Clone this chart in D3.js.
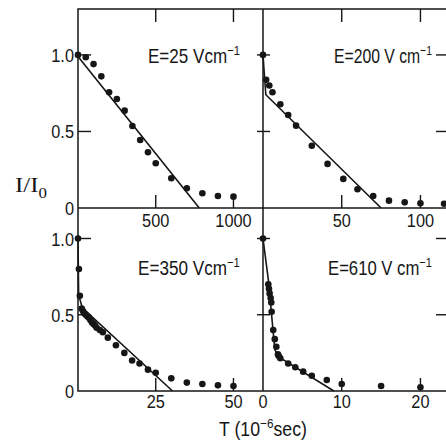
<!DOCTYPE html>
<html><head><meta charset="utf-8">
<script src="https://cdn.jsdelivr.net/npm/d3@7"></script>
<style>html,body{margin:0;padding:0;background:#fff}svg{display:block}</style>
</head><body><svg id="c" width="446" height="440"></svg>
<script>
// ---- data ----
const fieldLabels = ["E=25 Vcm", "E=200 V cm", "E=350 Vcm", "E=610 V cm"];

const t25 = [0,50,100,150,200,250,300,350,400,450,500,600,700,800,900,1000];
const i25 = [1.0,0.985,0.94,0.86,0.756,0.712,0.636,0.536,0.444,0.364,0.292,0.194,0.129,0.096,0.078,0.074];
const fit25T = [0,780];
const fit25I = [0.99,0];

const t200 = [0,2,4,6,11,16,21,31,41,51,60,70,80,90,100,115];
const i200 = [1.0,0.837,0.80,0.756,0.678,0.608,0.538,0.407,0.288,0.19,0.122,0.078,0.048,0.037,0.031,0.028];
const fit200T = [0,0.8,1.8,75];
const fit200I = [1.0,0.88,0.74,0];

const t350 = [0,0.3,0.6,1.2,1.6,2,2.5,3,3.5,4,4.5,5,5.5,6,7,8,9.6,12.2,14.9,17.4,19.8,22.5,25,30,35,40,45,50];
const i350 = [1.0,0.80,0.625,0.54,0.525,0.51,0.50,0.49,0.48,0.465,0.45,0.44,0.43,0.415,0.40,0.385,0.35,0.30,0.25,0.20,0.18,0.14,0.12,0.083,0.055,0.046,0.037,0.033];
const fit350T = [0,0.2,1.4,30.4];
const fit350I = [1.0,0.63,0.545,0];

const t610 = [0,0.67,0.76,0.84,0.97,1.05,1.1,1.3,1.5,1.7,1.9,2.0,2.2,3.2,4.1,5.1,6.2,8.1,10,15,20];
const i610 = [1.0,0.70,0.67,0.64,0.61,0.58,0.52,0.40,0.34,0.29,0.24,0.23,0.215,0.18,0.156,0.127,0.10,0.072,0.046,0.033,0.024];
const fit610T = [0,0.7,1.5,2.1,9.0];
const fit610I = [1.0,0.72,0.27,0.22,0];

const xTicks25 = [500,1000];
const xTicks200 = [50,100];
const xTicks350 = [25,50];
const xTicks610 = [0,10,20];
const yTicks = [0,0.5,1.0];
const yTickLabels = ["0","0.5","1.0"];

// ---- layout ----
const svg = d3.select('#c');
const L=78, M=263, R=448, TOP=9, MY=208, B=391;
const INK = "#161616";
const FONT = "'Liberation Sans', Arial, sans-serif";

const panels = [
  {t:t25, i:i25, ft:fit25T, fi:fit25I, xd:[0,1190], xr:[L,M], yd:[0,1.3], yr:[MY,TOP], xt:xTicks25, row:0, col:0, lab:fieldLabels[0], lx:148, ly:63, lw:92},
  {t:t200,i:i200,ft:fit200T,fi:fit200I,xd:[0,117.5],xr:[M,R], yd:[0,1.3], yr:[MY,TOP], xt:xTicks200, row:0, col:1, lab:fieldLabels[1], lx:334, ly:63, lw:98},
  {t:t350,i:i350,ft:fit350T,fi:fit350I,xd:[0,59.5], xr:[L,M], yd:[0,1.2], yr:[B,MY], xt:xTicks350, row:1, col:0, lab:fieldLabels[2], lx:138, ly:275, lw:102},
  {t:t610,i:i610,ft:fit610T,fi:fit610I,xd:[0,23.5], xr:[M,R], yd:[0,1.2], yr:[B,MY], xt:xTicks610, row:1, col:1, lab:fieldLabels[3], lx:328, ly:275, lw:104}
];

const gFrame = svg.append('g').attr('stroke', INK).attr('stroke-width', 1.5).attr('fill','none');
// outer frame and dividers
gFrame.append('rect').attr('x', L).attr('y', TOP).attr('width', R-L).attr('height', B-TOP);
gFrame.append('line').attr('x1', M).attr('x2', M).attr('y1', TOP).attr('y2', B);
gFrame.append('line').attr('x1', L).attr('x2', R).attr('y1', MY).attr('y2', MY);

function fitText(sel, target) {
  const w = sel.node().getComputedTextLength();
  return target / w;
}

function addText(x, y, anchor, size, sx, parts, family) {
  const t = svg.append('text')
    .attr('font-family', family || FONT)
    .attr('font-size', size)
    .attr('fill', INK)
    .attr('text-anchor', anchor);
  parts.forEach(p => {
    const ts = t.append('tspan').text(p.s);
    if (p.k === 'sup') ts.attr('font-size', size*0.66).attr('dy', -size*0.42);
    if (p.k === 'sub') ts.attr('font-size', size*0.68).attr('dy', size*0.28);
    if (p.k === 'back') ts.attr('dy', size*0.42);
    if (p.k === 'backsub') ts.attr('dy', -size*0.28);
  });
  let s = sx;
  if (typeof sx === 'object') s = fitText(t, sx.w);
  t.attr('transform', `translate(${x},${y}) scale(${s},1)`);
  return t;
}

panels.forEach(p => {
  const x = d3.scaleLinear().domain(p.xd).range(p.xr);
  const y = d3.scaleLinear().domain(p.yd).range(p.yr);
  const g = svg.append('g');

  // x ticks (bottom, pointing up) and top ticks for the top row
  const xb = p.yr[0], xtop = p.yr[1];
  p.xt.filter(v => v !== 0).forEach(v => {
    g.append('line').attr('x1', x(v)).attr('x2', x(v)).attr('y1', xb).attr('y2', xb-13)
      .attr('stroke', INK).attr('stroke-width', 1.4);
    if (p.row === 0)
      g.append('line').attr('x1', x(v)).attr('x2', x(v)).attr('y1', xtop).attr('y2', xtop+13)
        .attr('stroke', INK).attr('stroke-width', 1.4);
  });
  // y ticks
  yTicks.filter(v => v !== 0).forEach(v => {
    if (p.col === 0) {
      g.append('line').attr('x1', L).attr('x2', L+13).attr('y1', y(v)).attr('y2', y(v))
        .attr('stroke', INK).attr('stroke-width', 1.4);
    } else {
      g.append('line').attr('x1', M-6).attr('x2', M+7).attr('y1', y(v)).attr('y2', y(v))
        .attr('stroke', INK).attr('stroke-width', 1.4);
      g.append('line').attr('x1', R-12).attr('x2', R).attr('y1', y(v)).attr('y2', y(v))
        .attr('stroke', INK).attr('stroke-width', 1.4);
    }
  });

  // fitted line
  const line = d3.line().x(d => x(d[0])).y(d => y(d[1]));
  g.append('path').datum(p.ft.map((v, k) => [v, p.fi[k]]))
    .attr('d', line).attr('fill','none').attr('stroke', INK).attr('stroke-width', 1.6);

  // data points
  g.selectAll('circle.pt').data(p.t.map((v, k) => [v, p.i[k]])).join('circle')
    .attr('class','pt').attr('cx', d => x(d[0])).attr('cy', d => y(d[1])).attr('r', 3.3).attr('fill', INK);

  // x tick labels
  const lb = p.row === 0 ? 227 : 408;
  p.xt.forEach(v => addText(x(v), lb, 'middle', 19, 0.86, [{s: String(v)}]));

  // y tick labels
  if (p.col === 0) {
    yTicks.forEach((v, k) => addText(74, y(v)+7, 'end', 19, 0.86, [{s: yTickLabels[k]}]));
  }

  // field label
  addText(p.lx, p.ly, 'start', 20, {w: p.lw}, [{s: p.lab}, {s: '−1', k: 'sup'}]);
});

// axis titles
addText(15, 192, 'start', 21, {w: 32}, [{s: 'I/I'}, {s: '0', k: 'sub'}], "'Liberation Serif', 'Times New Roman', serif");
addText(219, 436, 'start', 20, {w: 88}, [{s: 'T (10'}, {s: '−6', k: 'sup'}, {s: 'sec)', k: 'back'}]);
</script>
</body></html>
